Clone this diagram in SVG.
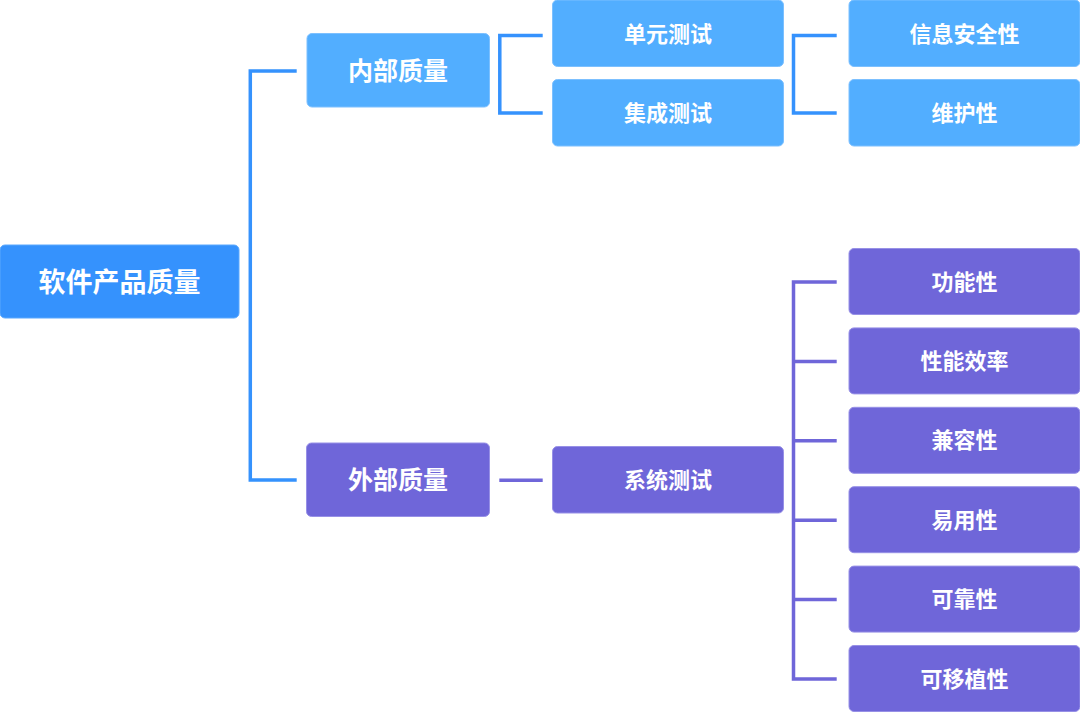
<svg xmlns="http://www.w3.org/2000/svg" width="1080" height="712" viewBox="0 0 1080 712">
<style>
  .t{font-family:"Noto Sans CJK SC","Noto Sans",sans-serif;font-weight:700;fill:#ffffff;text-anchor:middle}
  .root{fill:#3592fd;stroke:#5aa8fe;stroke-width:1}
  .blue{fill:#52aeff;stroke:#7cc0ff;stroke-width:1}
  .purple{fill:#6f66d9;stroke:#9790e6;stroke-width:1}
  .cb{fill:none;stroke:#3592fd;stroke-width:3.5}
  .cp{fill:none;stroke:#6f66d9;stroke-width:3.5}
</style>
<rect width="1080" height="712" fill="#ffffff"/>
<g id="connectors">
  <path class="cb" d="M296.7 71 H250.3 V480 H296.7"/>
  <path class="cb" d="M542.7 35.5 H499.8 V113 H542.7"/>
  <path class="cb" d="M836.7 35.5 H793.5 V113 H836.7"/>
  <path class="cp" d="M499.3 480.3 H542.7"/>
  <path class="cp" d="M836.7 282 H793.5 V679 H836.7"/>
  <path class="cp" d="M793.5 361.4 H836.7 M793.5 440.8 H836.7 M793.5 520.2 H836.7 M793.5 599.6 H836.7"/>
</g>
<g id="n-root">
  <rect class="root" x="0" y="245" width="239" height="73" rx="5"/>
  <text class="t" x="119.5" y="291.5" font-size="27">软件产品质量</text>
</g>
<g id="n-internal">
  <rect class="blue" x="307" y="33.5" width="182.5" height="73.5" rx="5"/>
  <text class="t" x="398" y="79.5" font-size="25">内部质量</text>
</g>
<g id="n-external">
  <rect class="purple" x="306.5" y="443" width="183" height="73.5" rx="5"/>
  <text class="t" x="398" y="489" font-size="25">外部质量</text>
</g>
<g id="n-unit">
  <rect class="blue" x="552.5" y="0" width="231" height="66.5" rx="5"/>
  <text class="t" x="668" y="41.5" font-size="22">单元测试</text>
</g>
<g id="n-integration">
  <rect class="blue" x="552.5" y="79.5" width="231" height="66.5" rx="5"/>
  <text class="t" x="668" y="120.5" font-size="22">集成测试</text>
</g>
<g id="n-system">
  <rect class="purple" x="552.5" y="446.5" width="231" height="66.5" rx="5"/>
  <text class="t" x="668" y="487.5" font-size="22">系统测试</text>
</g>
<g id="n-security">
  <rect class="blue" x="849" y="0" width="231" height="66.5" rx="5"/>
  <text class="t" x="964.5" y="41.5" font-size="22">信息安全性</text>
</g>
<g id="n-maintain">
  <rect class="blue" x="849" y="79.5" width="231" height="66.5" rx="5"/>
  <text class="t" x="964.5" y="120.5" font-size="22">维护性</text>
</g>
<g id="n-func">
  <rect class="purple" x="849" y="248.5" width="231" height="66" rx="5"/>
  <text class="t" x="964.5" y="289.5" font-size="22">功能性</text>
</g>
<g id="n-perf">
  <rect class="purple" x="849" y="327.9" width="231" height="66" rx="5"/>
  <text class="t" x="964.5" y="368.9" font-size="22">性能效率</text>
</g>
<g id="n-compat">
  <rect class="purple" x="849" y="407.3" width="231" height="66" rx="5"/>
  <text class="t" x="964.5" y="448.3" font-size="22">兼容性</text>
</g>
<g id="n-usab">
  <rect class="purple" x="849" y="486.7" width="231" height="66" rx="5"/>
  <text class="t" x="964.5" y="527.7" font-size="22">易用性</text>
</g>
<g id="n-reliab">
  <rect class="purple" x="849" y="566.1" width="231" height="66" rx="5"/>
  <text class="t" x="964.5" y="607.1" font-size="22">可靠性</text>
</g>
<g id="n-port">
  <rect class="purple" x="849" y="645.5" width="231" height="66" rx="5"/>
  <text class="t" x="964.5" y="686.5" font-size="22">可移植性</text>
</g>
</svg>
